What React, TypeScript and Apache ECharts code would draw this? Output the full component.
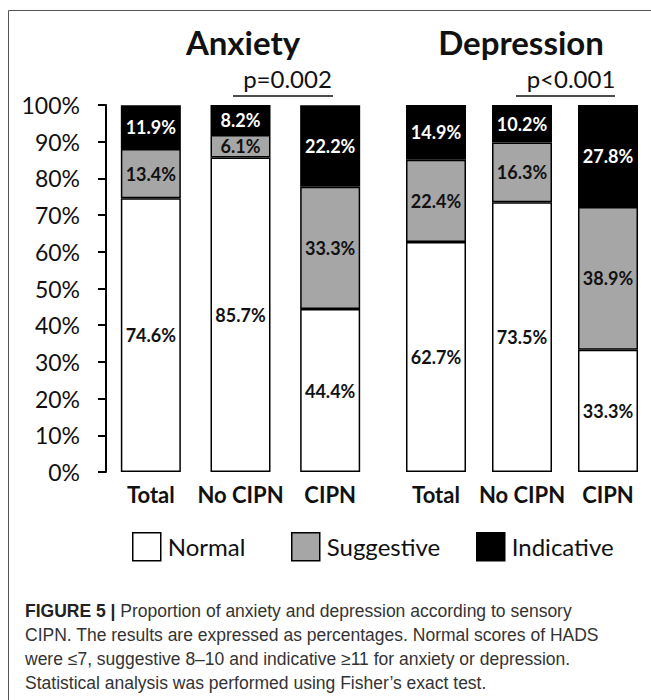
import React, { useEffect, useRef } from "react";
import * as echarts from "echarts";

const categories = ["Total", "No CIPN", "CIPN"];
const anxietyNormal = [74.6, 85.7, 44.4];
const anxietySuggestive = [13.4, 6.1, 33.3];
const anxietyIndicative = [11.9, 8.2, 22.2];
const depressionNormal = [62.7, 73.5, 33.3];
const depressionSuggestive = [22.4, 16.3, 38.9];
const depressionIndicative = [14.9, 10.2, 27.8];
const levelNames = ["Normal", "Suggestive", "Indicative"];
const levelColors = ["#ffffff", "#a6a6a6", "#000000"];
const labelColors = ["#111111", "#111111", "#ffffff"];
const groupTitles = ["Anxiety", "Depression"];
const pValues = ["p=0.002", "p<0.001"];
const captionBold = "FIGURE 5 |";
const captionLines = [
  " Proportion of anxiety and depression according to sensory",
  "CIPN. The results are expressed as percentages. Normal scores of HADS",
  "were ≤7, suggestive 8–10 and indicative ≥11 for anxiety or depression.",
  "Statistical analysis was performed using Fisher’s exact test.",
];

const FONT = "Lato";

export default function App() {
  const ref = useRef<HTMLDivElement>(null);
  useEffect(() => {
    if (!ref.current) return;
    const chart = echarts.init(ref.current, null, { renderer: "svg" });
    const groups = [
      [anxietyNormal, anxietySuggestive, anxietyIndicative],
      [depressionNormal, depressionSuggestive, depressionIndicative],
    ];
    const series: any[] = [];
    groups.forEach((g, gi) => {
      g.forEach((vals, li) => {
        series.push({
          type: "bar",
          name: levelNames[li],
          xAxisIndex: gi,
          yAxisIndex: gi,
          stack: "g" + gi,
          barWidth: 60,
          data: vals,
          itemStyle: {
            color: levelColors[li],
            borderColor: "#000",
            borderWidth: 1.5,
          },
          label: {
            show: true,
            position: "inside",
            formatter: "{c}%",
            color: labelColors[li],
            fontFamily: FONT,
            fontWeight: "bold",
            fontSize: 18,
          },
        });
      });
    });
    const xAxisBase = {
      type: "category",
      data: categories,
      axisLine: { show: false },
      axisTick: { show: false },
      axisLabel: {
        interval: 0,
        color: "#111",
        fontFamily: FONT,
        fontWeight: "bold",
        fontSize: 22,
        margin: 11,
      },
    };
    const yAxisBase = {
      type: "value",
      min: 0,
      max: 100,
      interval: 10,
      splitLine: { show: false },
    };
    const legendLefts = [132, 291, 476];
    const legends = levelNames.map((n, i) => ({
      data: [n],
      left: legendLefts[i],
      top: 532,
      padding: 0,
      itemWidth: 28,
      itemHeight: 28,
      icon: "rect",
      itemStyle: { borderColor: "#000", borderWidth: 1.5 },
      textStyle: { color: "#111", fontFamily: FONT, fontSize: 24, padding: [0, 0, 0, 2] },
    }));
    const captionText =
      "{b|" + captionBold + "}{r|" + captionLines[0] + "}\n" +
      captionLines.slice(1).map((l) => "{r|" + l + "}").join("\n");
    const option: any = {
      animation: false,
      backgroundColor: "#ffffff",
      grid: [
        { left: 106, width: 269, top: 105, height: 367 },
        { left: 393, width: 268, top: 105, height: 367 },
      ],
      xAxis: [
        { ...xAxisBase, gridIndex: 0 },
        { ...xAxisBase, gridIndex: 1 },
      ],
      yAxis: [
        {
          ...yAxisBase,
          gridIndex: 0,
          axisLine: { show: true, lineStyle: { color: "#000", width: 2 } },
          axisTick: { show: true, length: 8, lineStyle: { color: "#000", width: 2 } },
          axisLabel: {
            formatter: "{value}%",
            color: "#111",
            fontFamily: FONT,
            fontSize: 23,
            margin: 26,
          },
        },
        {
          ...yAxisBase,
          gridIndex: 1,
          show: false,
        },
      ],
      legend: legends,
      graphic: [
        { type: "line", shape: { x1: 8.5, y1: 10.5, x2: 651, y2: 10.5 }, style: { stroke: "#555", lineWidth: 1 } },
        { type: "line", shape: { x1: 8.5, y1: 10.5, x2: 8.5, y2: 700 }, style: { stroke: "#555", lineWidth: 1 } },
        { type: "text", x: 243, y: 42, style: { text: groupTitles[0], fill: "#111", font: `bold 33px ${FONT}`, textAlign: "center", textVerticalAlign: "middle" } },
        { type: "text", x: 521, y: 42, style: { text: groupTitles[1], fill: "#111", font: `bold 33px ${FONT}`, textAlign: "center", textVerticalAlign: "middle" } },
        { type: "text", x: 287.5, y: 78, style: { text: pValues[0], fill: "#111", font: `24px ${FONT}`, textAlign: "center", textVerticalAlign: "middle" } },
        { type: "text", x: 571, y: 78, style: { text: pValues[1], fill: "#111", font: `24px ${FONT}`, textAlign: "center", textVerticalAlign: "middle" } },
        { type: "line", shape: { x1: 233, y1: 96, x2: 333, y2: 96 }, style: { stroke: "#111", lineWidth: 1.5 } },
        { type: "line", shape: { x1: 516, y1: 96, x2: 615, y2: 96 }, style: { stroke: "#111", lineWidth: 1.5 } },
        {
          type: "text",
          x: 25,
          y: 599,
          style: {
            text: captionText,
            rich: {
              b: { font: "bold 17.5px 'Liberation Sans'", fill: "#222", lineHeight: 24 },
              r: { font: "17.5px 'Liberation Sans'", fill: "#333", lineHeight: 24 },
            },
          },
        },
      ],
      series,
    };
    chart.setOption(option);
    return () => chart.dispose();
  }, []);
  return (
    <div
      ref={ref}
      style={{ position: "absolute", left: 0, top: 0, width: 651, height: 700, background: "#fff" }}
    />
  );
}
